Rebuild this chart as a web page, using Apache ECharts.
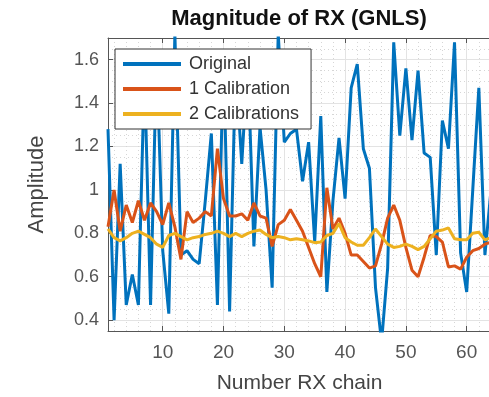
<!DOCTYPE html>
<html>
<head>
<meta charset="utf-8">
<script src="https://cdn.jsdelivr.net/npm/echarts@6/dist/echarts.min.js"></script>
<style>html,body{margin:0;padding:0;background:#fff;}#c{width:489px;height:397px;}</style>
</head>
<body>
<div id="c"></div>
<script>
const chains = [1,2,3,4,5,6,7,8,9,10,11,12,13,14,15,16,17,18,19,20,21,22,23,24,25,26,27,28,29,30,31,32,33,34,35,36,37,38,39,40,41,42,43,44,45,46,47,48,49,50,51,52,53,54,55,56,57,58,59,60,61,62,63,64];
const original = [1.28,0.40,1.12,0.47,0.61,0.47,1.55,0.47,1.62,0.72,0.43,1.72,0.70,0.72,0.68,0.66,0.95,1.26,0.47,1.62,0.44,1.58,1.12,1.60,0.74,1.29,1.00,0.55,1.72,1.22,1.26,1.28,1.04,1.22,0.76,1.34,0.53,0.95,1.24,0.96,1.47,1.58,1.19,1.10,0.55,0.30,0.64,1.68,1.25,1.56,1.23,1.55,1.17,1.15,0.70,1.32,1.19,1.68,0.71,0.53,1.00,1.47,0.70,1.00];
const cal1 = [0.83,1.00,0.81,0.93,0.85,0.95,0.86,0.94,0.90,0.84,0.94,0.83,0.68,0.90,0.85,0.87,0.90,0.88,1.19,0.96,0.88,0.88,0.89,0.86,0.94,0.88,0.87,0.74,0.84,0.86,0.91,0.86,0.81,0.735,0.66,0.60,1.01,0.82,0.87,0.80,0.70,0.70,0.67,0.64,0.65,0.75,0.87,0.93,0.86,0.735,0.63,0.60,0.69,0.79,0.785,0.76,0.645,0.65,0.635,0.69,0.72,0.73,0.75,0.76];
const cal2 = [0.82,0.78,0.765,0.78,0.80,0.81,0.795,0.78,0.75,0.735,0.79,0.80,0.785,0.77,0.78,0.785,0.795,0.80,0.81,0.80,0.785,0.80,0.785,0.80,0.81,0.815,0.795,0.78,0.785,0.78,0.77,0.775,0.77,0.765,0.757,0.76,0.79,0.80,0.845,0.78,0.76,0.745,0.745,0.78,0.82,0.785,0.75,0.735,0.74,0.75,0.74,0.725,0.74,0.775,0.81,0.815,0.825,0.775,0.77,0.77,0.80,0.805,0.77,0.78];
const seriesNames = ['Original', '1 Calibration', '2 Calibrations'];
const xTickLabels = [10, 20, 30, 40, 50, 60];
const yTickLabels = [0.4, 0.6, 0.8, 1, 1.2, 1.4, 1.6];

const FONT = 'Liberation Sans, Helvetica, Arial, sans-serif';
const pairs = arr => chains.map((c, i) => [c, arr[i]]);
const near = (v, list) => list.some(t => Math.abs(t - v) < 1e-6);

const chart = echarts.init(document.getElementById('c'), null, {renderer: 'canvas'});
const gridLine = {show: true, lineStyle: {color: '#e3e3e3', width: 1}};
const minorLine = {show: true, lineStyle: {color: '#d6d6d6', width: 1, type: [1, 3]}};

chart.setOption({
  animation: false,
  backgroundColor: '#fff',
  color: ['#0072BD', '#D95319', '#EDB120'],
  title: {
    text: 'Magnitude of RX (GNLS)',
    left: 294, top: 3, textAlign: 'center',
    textStyle: {fontFamily: FONT, fontSize: 22, fontWeight: 'bold', color: '#111'}
  },
  grid: {left: 108, right: -2, top: 38, bottom: 66, containLabel: false, outerBoundsMode: 'none'},
  legend: {
    data: seriesNames,
    orient: 'vertical', left: 115, top: 49,
    backgroundColor: '#fff', borderColor: '#333', borderWidth: 1,
    padding: [6, 12, 6, 8],
    icon: 'rect', itemWidth: 58, itemHeight: 4, itemGap: 7,
    textStyle: {fontFamily: FONT, fontSize: 18, color: '#333', lineHeight: 16, padding: [0, 0, 0, 3]}
  },
  xAxis: [{
    type: 'value', min: 1, max: 64, splitNumber: 6,
    name: 'Number RX chain', nameLocation: 'middle', nameGap: 42,
    nameTextStyle: {fontFamily: FONT, fontSize: 21, color: '#444'},
    axisLine: {show: true, lineStyle: {color: '#555', width: 1}},
    axisTick: {show: true, inside: true, length: 5, lineStyle: {color: '#555'}},
    axisLabel: {fontFamily: FONT, fontSize: 19, color: '#555', margin: 12,
      formatter: v => near(v, xTickLabels) ? String(v) : ''},
    splitLine: gridLine,
    minorSplitLine: minorLine,
    minorTick: {show: false, splitNumber: 5}
  }, {
    type: 'value', min: 1, max: 64, splitNumber: 6, position: 'top',
    axisLine: {show: true, lineStyle: {color: '#555', width: 1}},
    axisTick: {show: true, inside: true, length: 5, lineStyle: {color: '#555'}},
    axisLabel: {show: false}, splitLine: {show: false}
  }],
  yAxis: {
    type: 'value', min: 0.35, max: 1.7, splitNumber: 7,
    name: 'Amplitude', nameLocation: 'middle', nameGap: 60, nameRotate: 90,
    nameTextStyle: {fontFamily: FONT, fontSize: 22, color: '#444'},
    axisLine: {show: true, lineStyle: {color: '#555', width: 1}},
    axisTick: {show: true, inside: true, length: 5, lineStyle: {color: '#555'}},
    axisLabel: {fontFamily: FONT, fontSize: 18, color: '#555', margin: 9,
      formatter: v => near(v, yTickLabels) ? String(+v.toFixed(2)) : ''},
    splitLine: gridLine,
    minorSplitLine: minorLine,
    minorTick: {show: false, splitNumber: 4}
  },
  series: [
    {name: seriesNames[0], type: 'line', data: pairs(original), showSymbol: false, symbol: 'none', lineStyle: {width: 3}, z: 2},
    {name: seriesNames[1], type: 'line', data: pairs(cal1), showSymbol: false, symbol: 'none', lineStyle: {width: 3}, z: 3},
    {name: seriesNames[2], type: 'line', data: pairs(cal2), showSymbol: false, symbol: 'none', lineStyle: {width: 3}, z: 4}
  ]
});
</script>
</body>
</html>
